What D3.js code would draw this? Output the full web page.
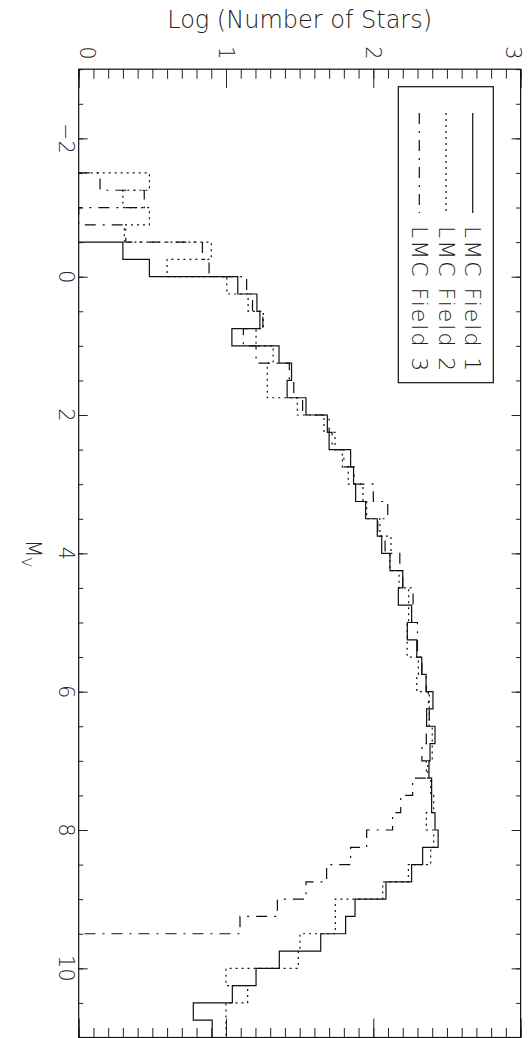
<!DOCTYPE html>
<html>
<head>
<meta charset="utf-8">
<title>LMC luminosity functions</title>
<script src="https://cdnjs.cloudflare.com/ajax/libs/d3/7.8.5/d3.min.js"></script>
<style>
  body { margin: 0; background: #fff; }
  text { font-family: "DejaVu Sans", sans-serif; font-weight: 200; fill: #222; }
</style>
</head>
<body>
<script>
// bins de M_V (inicio de cada bin, ancho 0.25)
var binWidth = 0.25;
var mvBins = [-1.5, -1.25, -1, -0.75, -0.5, -0.25, 0, 0.25, 0.5, 0.75,
  1, 1.25, 1.5, 1.75, 2, 2.25, 2.5, 2.75, 3, 3.25,
  3.5, 3.75, 4, 4.25, 4.5, 4.75, 5, 5.25, 5.5, 5.75,
  6, 6.25, 6.5, 6.75, 7, 7.25, 7.5, 7.75, 8, 8.25,
  8.5, 8.75, 9, 9.25, 9.5, 9.75, 10, 10.25, 10.5, 10.75];

// log N por bin (null = sin datos)
var field1 = [null, null, null, null, 0.30, 0.48, 1.08, 1.21, 1.23, 1.04,
  1.36, 1.445, 1.415, 1.543, 1.688, 1.70, 1.846, 1.866, 1.88, 1.948,
  2.027, 2.057, 2.113, 2.20, 2.17, 2.26, 2.231, 2.295, 2.329, 2.358,
  2.405, 2.362, 2.419, 2.385, 2.378, 2.396, 2.396, 2.419, 2.44, 2.335,
  2.26, 2.086, 1.876, 1.812, 1.643, 1.362, 1.204, 1.043, 0.778, 0.906];

var field2 = [0.48, 0.30, 0.48, 0.31, 0.90, 0.60, 1.005, 1.15, 1.253, 1.204,
  1.32, 1.28, 1.28, 1.484, 1.665, 1.74, 1.79, 1.83, 1.93, 1.955,
  2.045, 2.12, 2.113, 2.175, 2.24, 2.24, 2.23, 2.23, 2.306, 2.295,
  2.38, 2.38, 2.40, 2.40, 2.37, 2.39, 2.41, 2.36, 2.41, 2.39,
  2.238, 2.064, 1.742, 1.742, 1.502, 1.491, 1.0, 1.147, 1.0, 1.0];

var field3 = [0.145, 0.445, 0, 0.32, 0.84, 0.885, 1.14, 1.18, 1.25, 1.118,
  1.204, 1.43, 1.46, 1.52, 1.70, 1.72, 1.80, 1.87, 2.0, 2.098,
  2.03, 2.08, 2.18, 2.20, 2.27, 2.26, 2.30, 2.30, 2.33, 2.36,
  2.374, 2.38, 2.36, 2.33, 2.36, 2.267, 2.186, 2.131, 1.955, 1.846,
  1.683, 1.543, 1.349, 1.095, null, null, null, null, null, null];

var seriesNames = ["LMC Field 1", "LMC Field 2", "LMC Field 3"];
var seriesDash = ["none", "2,4", "11,7,2,7"];
var logTicks = [0, 1, 2, 3];
var mvTicks = [-2, 0, 2, 4, 6, 8, 10];

var width = 531, height = 1038;
var x0 = 78.7, x1 = 520.6, yTop = 69.2, yBot = 1037.5;

// ejes girados: log N horizontal, M_V vertical
var x = d3.scaleLinear().domain([0, 3]).range([x0, x1]);
var y = d3.scaleLinear().domain([-3, 11]).range([yTop, yBot]);

var svg = d3.select("body").append("svg")
  .attr("width", width)
  .attr("height", height);

// ticks arriba y abajo (menores cada 0.1)
var minorLog = d3.range(0, 30.5).map(function(i) { return i / 10; });
function tickAxis(axis, g) {
  svg.append("g").attr("transform", g).call(axis)
    .call(function(s) { s.select(".domain").remove(); s.selectAll("line").attr("stroke", "#222"); });
}
tickAxis(d3.axisTop(x).tickValues(minorLog).tickSize(-9.5).tickFormat(""), "translate(0," + yTop + ")");
tickAxis(d3.axisTop(x).tickValues(logTicks).tickSize(-19).tickFormat(""), "translate(0," + yTop + ")");
tickAxis(d3.axisBottom(x).tickValues(minorLog).tickSize(-9.5).tickFormat(""), "translate(0," + yBot + ")");
tickAxis(d3.axisBottom(x).tickValues(logTicks).tickSize(-19).tickFormat(""), "translate(0," + yBot + ")");

var minorMv = d3.range(-6, 23).map(function(i) { return i / 2; });
tickAxis(d3.axisLeft(y).tickValues(minorMv).tickSize(-4.5).tickFormat(""), "translate(" + x0 + ",0)");
tickAxis(d3.axisLeft(y).tickValues(mvTicks).tickSize(-9).tickFormat(""), "translate(" + x0 + ",0)");
tickAxis(d3.axisRight(y).tickValues(minorMv).tickSize(-4.5).tickFormat(""), "translate(" + x1 + ",0)");
tickAxis(d3.axisRight(y).tickValues(mvTicks).tickSize(-9).tickFormat(""), "translate(" + x1 + ",0)");

svg.append("rect")
  .attr("x", x0).attr("y", yTop)
  .attr("width", x1 - x0).attr("height", yBot - yTop)
  .attr("fill", "none").attr("stroke", "#111").attr("stroke-width", 1.2);

// etiquetas giradas
svg.selectAll("text.logtick")
  .data(logTicks)
  .enter().append("text")
  .attr("class", "logtick")
  .attr("text-anchor", "middle")
  .attr("dominant-baseline", "central")
  .attr("font-size", 21)
  .attr("transform", function(d) {
    var px = Math.max(x0 + 8, Math.min(x1 - 8, x(d)));
    return "translate(" + px + ",53) rotate(90)";
  })
  .text(function(d) { return d; });

svg.selectAll("text.mvtick")
  .data(mvTicks)
  .enter().append("text")
  .attr("class", "mvtick")
  .attr("text-anchor", "middle")
  .attr("dominant-baseline", "central")
  .attr("font-size", 21)
  .attr("transform", function(d) { return "translate(66," + y(d) + ") rotate(90)"; })
  .text(function(d) { return d < 0 ? "\u2212" + Math.abs(d) : d; });

svg.append("text")
  .attr("x", (x0 + x1) / 2).attr("y", 28)
  .attr("text-anchor", "middle")
  .attr("font-size", 24)
  .text("Log (Number of Stars)");

var mvLabel = svg.append("text")
  .attr("transform", "translate(33," + y(4) + ") rotate(90)")
  .attr("text-anchor", "middle")
  .attr("dominant-baseline", "central")
  .attr("font-size", 21);
mvLabel.append("tspan").text("M");
mvLabel.append("tspan").attr("font-size", 14).attr("dy", 6).text("V");

// histogramas en escalera
function stepPoints(vals) {
  var idx = [];
  vals.forEach(function(v, i) { if (v !== null) idx.push(i); });
  var first = idx[0], last = idx[idx.length - 1];
  var pts = [[0, mvBins[first]]];
  for (var i = first; i <= last; i++) {
    pts.push([vals[i], mvBins[i]]);
    pts.push([vals[i], mvBins[i] + binWidth]);
  }
  var end = mvBins[last] + binWidth;
  if (end < 11) pts.push([0, end]);
  return pts;
}

var line = d3.line()
  .x(function(d) { return x(d[0]); })
  .y(function(d) { return y(d[1]); });

[field1, field2, field3].forEach(function(vals, k) {
  svg.append("path")
    .attr("d", line(stepPoints(vals)))
    .attr("fill", "none")
    .attr("stroke", "#111")
    .attr("stroke-width", 1.2)
    .attr("stroke-dasharray", seriesDash[k]);
});

// leyenda
var legX = [472.7, 446, 419.3];
svg.append("rect")
  .attr("x", 398.3).attr("y", 86.7)
  .attr("width", 95).attr("height", 296)
  .attr("fill", "none").attr("stroke", "#111").attr("stroke-width", 1.2);

seriesNames.forEach(function(name, k) {
  svg.append("line")
    .attr("x1", legX[k]).attr("x2", legX[k])
    .attr("y1", 113).attr("y2", 213)
    .attr("stroke", "#111").attr("stroke-width", 1.2)
    .attr("stroke-dasharray", seriesDash[k]);
  svg.append("text")
    .attr("transform", "translate(" + legX[k] + ",226) rotate(90)")
    .attr("dominant-baseline", "central")
    .attr("font-size", 22)
    .attr("letter-spacing", 2)
    .text(name);
});
</script>
</body>
</html>
